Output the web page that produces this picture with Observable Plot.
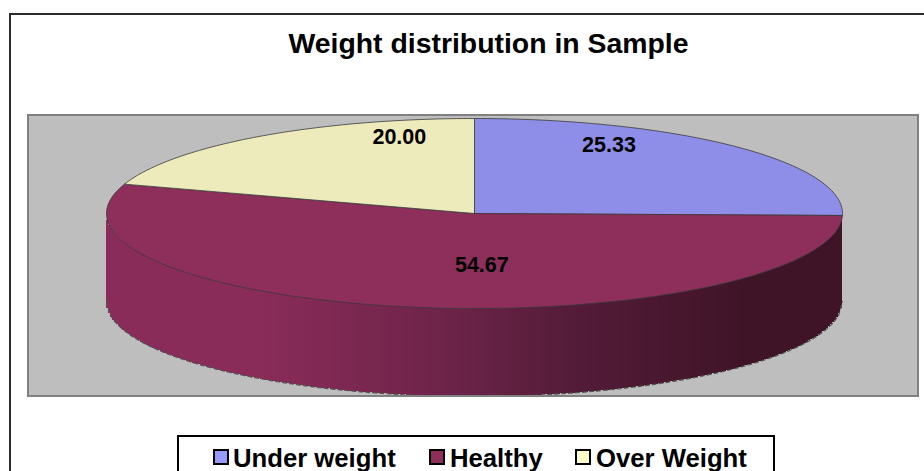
<!DOCTYPE html>
<html>
<head>
<meta charset="utf-8">
<script src="https://cdn.jsdelivr.net/npm/d3@7"></script>
<script src="https://cdn.jsdelivr.net/npm/@observablehq/plot@0.6"></script>
<style>
html,body{margin:0;padding:0;background:#fff;width:924px;height:471px;overflow:hidden;font-family:"Liberation Sans",Arial,sans-serif;}
#frame{position:absolute;left:9px;top:13px;width:930px;height:480px;border:2px solid #2b2b2b;}
#title{position:absolute;left:0;width:977px;top:25px;text-align:center;font-weight:bold;font-size:28.4px;line-height:36px;color:#000;}
#chart{position:absolute;left:27px;top:114px;}
#chart svg{display:block;outline:2px solid #808080;outline-offset:-2px;}
#legend{position:absolute;left:177px;top:435px;width:594px;height:60px;border:2px solid #000;background:#fff;}
.sw{position:absolute;top:12px;width:12px;height:12px;border:2px solid #000;}
.lb{position:absolute;top:8px;font-weight:bold;font-size:25.7px;line-height:26px;white-space:nowrap;color:#000;}
</style>
</head>
<body>
<div id="frame"></div>
<div id="title"></div>
<div id="chart"></div>
<div id="legend"></div>
<script>
const chartTitle = "Weight distribution in Sample";
const categories = ["Under weight", "Healthy", "Over Weight"];
const values = [25.33, 54.67, 20.00];
const labels = ["25.33", "54.67", "20.00"];
const topColors = ["#8e8ee9", "#8e2e5a", "#edebbb"];
const legendColors = ["#9999ff", "#8e2e5a", "#ffffcc"];
const shadeStops = [-1, -0.6, -0.1, 0.3, 0.75, 1];
const shadeColors = ["#8a2c59", "#8a2c59", "#6f244a", "#521b37", "#3f1427", "#3f1427"];

const depth = 0.926;
const labelShift = [[3, -35], [38, 5], [33, -38]];
const total = d3.sum(values);
const tau = 2 * Math.PI;

// slices clockwise from twelve o'clock
let start = 0;
const slices = categories.map((name, i) => {
  const a0 = start, a1 = start + values[i] / total * tau;
  start = a1;
  const pts = [{x: 0, y: 0}];
  const n = Math.max(2, Math.ceil((a1 - a0) * 60));
  for (let k = 0; k <= n; k++) {
    const a = a0 + (a1 - a0) * k / n;
    pts.push({x: Math.sin(a), y: Math.cos(a)});
  }
  pts.push({x: 0, y: 0});
  const mid = (a0 + a1) / 2;
  return {name, pts, color: topColors[i], label: labels[i], lx: 0.5 * Math.sin(mid), ly: 0.5 * Math.cos(mid), shift: labelShift[i]};
});

// wall of the cylinder, front half, in narrow vertical strips
const strips = d3.range(-1, 1, 1 / 184).map(x0 => {
  const x1 = Math.min(1, x0 + 1 / 184);
  const xm = (x0 + x1) / 2;
  const e = -Math.sqrt(Math.max(0, 1 - xm * xm));
  return {x1: x0, x2: x1, y1: e, y2: e - depth, xm};
});
const rim = d3.range(-1, 1.0001, 1 / 100).map(x => ({
  x, y: -Math.sqrt(Math.max(0, 1 - x * x)) - depth
}));

const marks = [
  Plot.rect(strips, {x1: "x1", x2: "x2", y1: "y1", y2: "y2", fill: "xm", inset: -0.2, shapeRendering: "crispEdges"}),
  Plot.line(rim, {x: "x", y: "y", stroke: "#555", strokeWidth: 1.2, strokeDasharray: "4,3"})
];
for (const s of slices) {
  marks.push(Plot.line(s.pts, {x: "x", y: "y", fill: s.color, stroke: "#3a3a3a", strokeWidth: 0.8, curve: "linear"}));
}
for (const s of slices) {
  marks.push(Plot.text([s], {
    x: "lx", y: "ly", text: "label", dx: s.shift[0], dy: s.shift[1],
    fontSize: 21.5, fontWeight: "bold", fill: "#000", fontFamily: "Liberation Sans, Arial, sans-serif"
  }));
}

const plot = Plot.plot({
  width: 892,
  height: 283,
  style: {background: "#bebebe"},
  x: {domain: [-1, 1], range: [79, 815], axis: null},
  y: {domain: [-1, 1], range: [194, 4], axis: null},
  color: {type: "linear", domain: shadeStops, range: shadeColors, legend: false},
  marks
});
document.getElementById("chart").appendChild(plot);
document.getElementById("title").textContent = chartTitle;

const legendX = [[34, 54], [250, 271], [396, 417]];
const legend = document.getElementById("legend");
categories.forEach((c, i) => {
  const sw = document.createElement("div");
  sw.className = "sw";
  sw.style.left = legendX[i][0] + "px";
  sw.style.background = legendColors[i];
  legend.appendChild(sw);
  const lb = document.createElement("div");
  lb.className = "lb";
  lb.style.left = legendX[i][1] + "px";
  lb.textContent = c;
  legend.appendChild(lb);
});
</script>
</body>
</html>
